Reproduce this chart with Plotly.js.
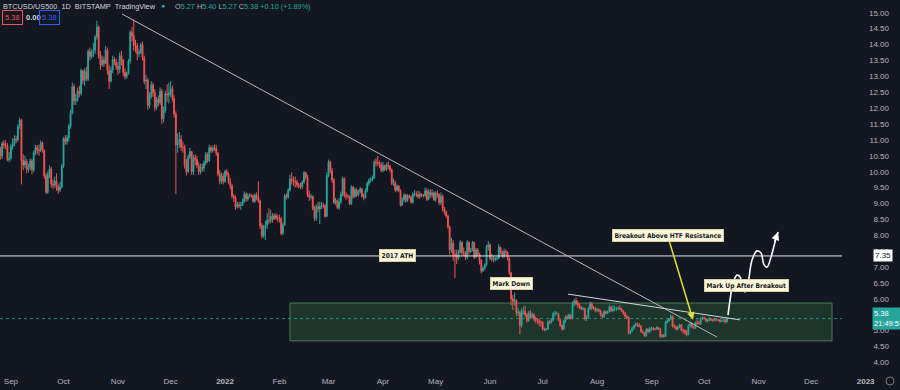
<!DOCTYPE html>
<html>
<head>
<meta charset="utf-8">
<script src="https://cdn.plot.ly/plotly-3.0.1.min.js"></script>
<style>
  html, body { margin: 0; padding: 0; background: #131722; }
  #chart { width: 900px; height: 390px; }
</style>
</head>
<body>
<div id="chart"></div>
<script>
// ---------------- DATA ----------------
// Daily candles of BTCUSD/US500 (ratio), one bar per calendar day, from 2021-08-26
const startDate = '2021-08-26';

const open = [
  // 2021-08 (26-31)
  10.70,10.49,10.89,10.84,10.82,10.38,
  // 2021-09
  10.43,10.79,10.87,11.03,11.00,11.42,11.62,10.35,10.21,10.33,10.07,10.14,10.34,10.05,10.60,10.76,10.68,10.67,10.90,10.67,9.87,9.35,9.92,10.09,9.61,9.58,9.70,9.50,9.42,9.52,
  // 2021-10
  10.17,11.04,10.95,11.06,11.44,11.85,12.67,12.23,12.28,12.53,12.46,13.18,12.87,13.15,12.91,13.78,13.62,13.76,13.82,14.23,14.55,13.67,13.36,13.51,13.40,13.82,13.18,12.85,13.19,13.53,13.44,
  // 2021-11
  13.31,13.22,13.65,13.50,13.12,12.99,13.09,13.48,14.38,14.28,13.97,13.96,13.71,13.75,13.99,13.58,12.85,12.88,12.09,12.37,12.73,12.49,12.02,12.28,12.17,12.53,11.66,11.93,12.45,12.41,
  // 2021-12
  12.48,12.61,12.30,11.81,10.84,10.89,11.02,10.78,10.76,10.20,10.00,10.48,10.63,10.00,10.44,10.38,10.20,10.00,10.13,10.11,10.27,10.54,10.35,10.75,10.66,10.75,10.73,10.58,9.92,9.70,9.86,
  // 2022-01
  9.69,10.01,9.92,9.67,9.55,9.23,9.18,8.89,8.96,8.94,8.95,9.06,9.29,9.14,9.24,9.26,9.24,9.07,9.26,9.20,9.08,8.30,7.98,8.25,8.32,8.47,8.46,8.60,8.51,8.62,8.55,
  // 2022-02
  8.53,8.51,8.06,8.33,9.24,9.20,9.42,9.77,9.75,9.68,9.68,9.59,9.55,9.53,9.68,9.97,9.83,9.27,9.20,9.22,8.83,8.53,8.90,8.83,8.93,8.94,8.92,8.60,
  // 2022-03
  9.88,10.31,10.03,9.74,9.03,9.10,8.87,9.05,9.28,9.79,9.25,9.23,9.23,8.99,9.51,9.22,9.43,9.27,9.37,9.46,9.23,9.19,9.40,9.63,9.73,9.75,9.80,10.30,10.29,10.25,10.23,
  // 2022-04
  10.04,10.19,10.07,10.21,10.17,10.06,9.64,9.65,9.42,9.54,9.40,8.95,9.12,9.26,9.09,9.24,9.20,9.04,9.29,9.30,9.28,9.22,9.29,9.25,9.25,9.40,9.13,9.37,9.26,9.34,
  // 2022-05
  9.12,9.32,9.27,9.03,9.23,8.83,8.73,8.61,8.27,7.54,7.75,7.40,7.38,7.28,7.48,7.78,7.46,7.44,7.31,7.77,7.49,7.54,7.77,7.32,7.54,7.41,7.20,6.88,6.97,7.07,7.62,
  // 2022-06
  7.70,7.27,7.28,7.23,7.28,7.28,7.62,7.47,7.34,7.49,7.46,7.28,6.82,6.00,5.92,5.96,5.56,5.58,5.17,5.61,5.61,5.50,5.32,5.56,5.42,5.50,5.37,5.31,5.31,5.26,
  // 2022-07
  5.26,5.05,5.02,5.05,5.28,5.27,5.33,5.53,5.54,5.54,5.33,5.16,5.05,5.31,5.43,5.38,5.49,5.38,5.85,5.94,5.86,5.80,5.73,5.68,5.70,5.37,5.41,5.69,5.85,5.71,5.71,
  // 2022-08
  5.64,5.66,5.62,5.49,5.44,5.60,5.55,5.60,5.75,5.63,5.68,5.68,5.70,5.70,5.68,5.61,5.55,5.45,5.42,4.92,4.99,5.09,5.17,5.21,5.17,5.14,4.98,4.93,4.83,5.04,4.97,
  // 2022-09
  5.06,5.07,5.05,5.05,5.10,5.05,4.81,4.85,4.82,5.26,5.31,5.36,5.45,5.14,5.12,5.05,5.11,5.19,5.01,5.00,4.93,4.88,5.16,5.23,5.12,5.09,5.25,5.24,5.22,5.38,
  // 2022-10 (1-14)
  5.41,5.38,5.30,5.33,5.36,5.34,5.33,5.36,5.33,5.33,5.29,5.31,5.35,5.27
];

const high = [
  10.78,10.95,10.99,10.98,10.90,10.62,
  10.88,11.05,11.15,11.12,11.50,11.70,11.66,10.55,10.50,10.40,10.25,10.42,10.40,10.66,10.85,10.84,10.85,10.98,10.95,10.70,9.95,10.02,10.20,10.15,9.75,9.85,9.95,9.60,9.68,10.25,
  11.10,11.15,11.15,11.50,11.95,12.80,12.75,12.45,12.65,12.70,13.25,13.20,13.25,13.30,13.85,13.90,13.85,14.05,14.30,14.75,14.60,13.80,13.65,13.62,13.95,13.90,13.35,13.30,13.65,13.60,13.55,
  13.45,13.75,13.80,13.55,13.25,13.15,13.55,14.45,14.55,14.80,14.15,14.05,13.85,14.05,14.10,13.65,13.05,12.95,12.50,12.85,12.80,12.60,12.35,12.40,12.65,12.60,12.05,12.55,12.75,12.80,
  12.85,12.70,12.40,11.90,11.20,11.25,11.15,10.95,10.85,10.40,10.55,10.75,10.65,10.52,10.55,10.50,10.30,10.25,10.25,10.35,10.62,10.60,10.85,10.82,10.82,10.85,10.85,10.62,10.05,9.98,9.95,
  10.05,10.08,9.98,9.80,9.62,9.30,9.25,9.05,9.05,9.05,9.15,9.38,9.35,9.32,9.32,9.30,9.28,9.32,9.35,9.70,9.12,8.38,8.32,8.45,8.70,8.85,8.80,8.70,8.68,8.70,8.65,
  8.65,8.58,8.40,9.30,9.32,9.48,9.90,9.98,9.85,9.85,9.75,9.65,9.65,9.72,10.02,10.00,9.90,9.40,9.30,9.25,8.92,8.98,9.05,9.05,9.05,9.02,8.98,9.98,
  10.38,10.35,10.12,9.80,9.18,9.12,9.18,9.38,9.85,9.82,9.35,9.30,9.25,9.58,9.55,9.50,9.48,9.42,9.52,9.48,9.30,9.48,9.70,9.80,9.82,9.88,10.38,10.42,10.50,10.35,10.30,
  10.30,10.22,10.28,10.32,10.22,10.10,9.78,9.72,9.60,9.58,9.45,9.20,9.32,9.30,9.30,9.28,9.25,9.35,9.42,9.38,9.40,9.38,9.32,9.30,9.50,9.48,9.45,9.45,9.45,9.38,
  9.38,9.42,9.32,9.35,9.28,8.90,8.78,8.65,8.30,7.92,7.85,7.55,7.55,7.55,7.85,7.82,7.62,7.50,7.85,7.82,7.60,7.82,7.80,7.60,7.60,7.45,7.25,7.02,7.12,7.70,7.82,
  7.75,7.42,7.35,7.32,7.35,7.72,7.65,7.52,7.58,7.55,7.50,7.30,6.85,6.12,6.20,5.98,5.70,5.62,5.70,5.75,5.78,5.55,5.62,5.65,5.58,5.55,5.45,5.40,5.38,5.32,
  5.30,5.10,5.08,5.32,5.35,5.40,5.58,5.62,5.60,5.56,5.36,5.20,5.35,5.48,5.50,5.55,5.52,5.92,6.00,6.05,5.95,5.85,5.78,5.75,5.72,5.48,5.75,5.92,5.90,5.78,5.75,
  5.72,5.70,5.66,5.55,5.65,5.62,5.64,5.82,5.76,5.80,5.78,5.75,5.76,5.80,5.72,5.64,5.58,5.50,5.44,5.02,5.12,5.20,5.26,5.26,5.24,5.18,5.02,4.95,5.08,5.08,5.12,
  5.12,5.12,5.08,5.14,5.12,5.08,4.90,4.90,5.30,5.36,5.40,5.52,5.48,5.20,5.16,5.15,5.22,5.20,5.06,5.05,5.02,5.20,5.28,5.25,5.15,5.28,5.35,5.30,5.42,5.46,
  5.44,5.40,5.38,5.42,5.40,5.38,5.40,5.37,5.36,5.36,5.34,5.38,5.38,5.40
];

const low = [
  10.38,10.40,10.72,10.70,10.33,10.30,
  10.35,10.70,10.80,10.90,10.95,11.35,9.60,10.05,10.12,9.95,9.98,10.05,9.92,9.98,10.52,10.55,10.50,10.62,10.60,9.78,9.30,9.30,9.80,9.50,9.45,9.50,9.40,9.30,9.36,9.48,
  10.12,10.85,10.85,10.95,11.35,11.80,12.10,12.10,12.20,12.35,12.40,12.75,12.70,12.85,12.85,13.50,13.55,13.60,13.70,14.15,13.55,13.20,13.30,13.30,13.38,13.05,12.60,12.80,13.10,13.35,13.20,
  13.05,13.10,13.35,13.00,12.90,12.92,13.05,13.40,14.10,13.80,13.75,13.50,13.60,13.70,13.50,12.75,12.60,11.95,12.00,12.30,12.35,11.90,11.95,12.05,12.10,11.50,11.55,11.85,12.20,12.15,
  12.35,12.20,11.70,9.30,10.60,10.75,10.65,10.60,10.10,9.88,9.95,10.40,9.90,9.90,10.20,10.12,9.90,9.92,10.00,10.00,10.20,10.28,10.30,10.58,10.60,10.65,10.50,9.85,9.60,9.62,9.60,
  9.65,9.85,9.62,9.45,9.15,9.05,8.80,8.85,8.85,8.80,8.92,9.02,9.05,9.08,9.18,9.18,9.02,9.02,9.10,9.02,8.20,7.90,7.92,7.85,8.20,8.35,8.38,8.40,8.48,8.48,8.42,
  8.40,8.00,8.00,8.30,9.12,9.15,9.38,9.60,9.55,9.50,9.50,9.48,9.45,9.45,9.62,9.75,9.20,9.08,9.12,8.78,8.45,8.45,8.72,8.35,8.82,8.85,8.55,8.58,
  9.82,9.95,9.65,8.98,8.95,8.82,8.80,8.98,9.22,9.18,9.12,9.15,8.95,8.95,9.15,9.18,9.20,9.22,9.32,9.18,9.10,9.15,9.35,9.55,9.66,9.70,9.78,10.15,10.18,10.12,9.98,
  9.98,10.02,10.02,10.08,9.98,9.58,9.55,9.35,9.38,9.35,8.90,8.92,9.05,9.02,9.05,9.15,9.00,9.00,9.22,9.20,9.15,9.15,9.20,9.18,9.20,9.08,9.10,9.18,9.18,9.08,
  9.05,9.18,8.95,8.95,8.75,8.65,8.55,8.20,7.40,7.45,7.20,6.65,7.10,7.22,7.42,7.38,7.35,7.22,7.25,7.40,7.45,7.50,7.25,7.28,7.35,7.08,6.80,6.85,6.90,7.02,7.52,
  7.22,7.18,7.15,7.18,7.20,7.25,7.40,7.28,7.28,7.38,7.20,6.75,5.80,5.65,5.80,5.45,5.45,4.88,5.10,5.50,5.42,5.25,5.28,5.38,5.38,5.30,5.24,5.20,5.15,5.12,
  5.00,4.98,5.00,5.03,5.20,5.22,5.30,5.45,5.50,5.30,5.12,5.00,5.02,5.25,5.35,5.36,5.35,5.36,5.78,5.80,5.72,5.68,5.64,5.64,5.32,5.30,5.38,5.65,5.65,5.66,5.58,
  5.58,5.58,5.45,5.40,5.40,5.52,5.52,5.58,5.58,5.58,5.62,5.62,5.66,5.64,5.58,5.50,5.40,5.38,4.88,4.88,4.96,5.02,5.12,5.12,5.10,4.94,4.90,4.80,4.82,4.92,4.94,
  5.00,5.00,5.02,5.02,5.02,4.78,4.78,4.78,4.80,5.22,5.28,5.34,5.10,5.06,5.00,5.02,5.08,4.98,4.90,4.88,4.82,4.85,5.10,5.08,5.05,5.05,5.18,5.18,5.18,5.34,
  5.35,5.28,5.26,5.30,5.30,5.28,5.30,5.30,5.30,5.26,5.26,5.28,5.22,5.27
];

const close = [
  10.49,10.89,10.84,10.82,10.38,10.43,
  10.79,10.87,11.03,11.00,11.42,11.62,10.35,10.21,10.33,10.07,10.14,10.34,10.05,10.60,10.76,10.68,10.67,10.90,10.67,9.87,9.35,9.92,10.09,9.61,9.58,9.70,9.50,9.42,9.52,10.17,
  11.04,10.95,11.06,11.44,11.85,12.67,12.23,12.28,12.53,12.46,13.18,12.87,13.15,12.91,13.78,13.62,13.76,13.82,14.23,14.55,13.67,13.36,13.51,13.40,13.82,13.18,12.85,13.19,13.53,13.44,13.31,
  13.22,13.65,13.50,13.12,12.99,13.09,13.48,14.38,14.28,13.97,13.96,13.71,13.75,13.99,13.58,12.85,12.88,12.09,12.37,12.73,12.49,12.02,12.28,12.17,12.53,11.66,11.93,12.45,12.41,12.48,
  12.61,12.30,11.81,10.84,10.89,11.02,10.78,10.76,10.20,10.00,10.48,10.63,10.00,10.44,10.38,10.20,10.00,10.13,10.11,10.27,10.54,10.35,10.75,10.66,10.75,10.73,10.58,9.92,9.70,9.86,9.69,
  10.01,9.92,9.67,9.55,9.23,9.18,8.89,8.96,8.94,8.95,9.06,9.29,9.14,9.24,9.26,9.24,9.07,9.26,9.20,9.08,8.30,7.98,8.25,8.32,8.47,8.46,8.60,8.51,8.62,8.55,8.53,
  8.51,8.06,8.33,9.24,9.20,9.42,9.77,9.75,9.68,9.68,9.59,9.55,9.53,9.68,9.97,9.83,9.27,9.20,9.22,8.83,8.53,8.90,8.83,8.93,8.94,8.92,8.60,9.88,
  10.31,10.03,9.74,9.03,9.10,8.87,9.05,9.28,9.79,9.25,9.23,9.23,8.99,9.51,9.22,9.43,9.27,9.37,9.46,9.23,9.19,9.40,9.63,9.73,9.75,9.80,10.30,10.29,10.25,10.23,10.04,
  10.19,10.07,10.21,10.17,10.06,9.64,9.65,9.42,9.54,9.40,8.95,9.12,9.26,9.09,9.24,9.20,9.04,9.29,9.30,9.28,9.22,9.29,9.25,9.25,9.40,9.13,9.37,9.26,9.34,9.12,
  9.32,9.27,9.03,9.23,8.83,8.73,8.61,8.27,7.54,7.75,7.40,7.38,7.28,7.48,7.78,7.46,7.44,7.31,7.77,7.49,7.54,7.77,7.32,7.54,7.41,7.20,6.88,6.97,7.07,7.62,7.70,
  7.27,7.28,7.23,7.28,7.28,7.62,7.47,7.34,7.49,7.46,7.28,6.82,6.00,5.92,5.96,5.56,5.58,5.17,5.61,5.61,5.50,5.32,5.56,5.42,5.50,5.37,5.31,5.31,5.26,5.26,
  5.05,5.02,5.05,5.28,5.27,5.33,5.53,5.54,5.54,5.33,5.16,5.05,5.31,5.43,5.38,5.49,5.38,5.85,5.94,5.86,5.80,5.73,5.68,5.70,5.37,5.41,5.69,5.85,5.71,5.71,5.64,
  5.66,5.62,5.49,5.44,5.60,5.55,5.60,5.75,5.63,5.68,5.68,5.70,5.70,5.68,5.61,5.55,5.45,5.42,4.92,4.99,5.09,5.17,5.21,5.17,5.14,4.98,4.93,4.83,5.04,4.97,5.06,
  5.07,5.05,5.05,5.10,5.05,4.81,4.85,4.82,5.26,5.31,5.36,5.45,5.14,5.12,5.05,5.11,5.19,5.01,5.00,4.93,4.88,5.16,5.23,5.12,5.09,5.25,5.24,5.22,5.38,5.41,
  5.38,5.30,5.33,5.36,5.34,5.33,5.36,5.33,5.33,5.29,5.31,5.35,5.28,5.38
];

// Month tick labels (first day of each month)
const tickDates = ['2021-09-01','2021-10-01','2021-11-01','2021-12-01','2022-01-01','2022-02-01','2022-03-01','2022-04-01','2022-05-01','2022-06-01','2022-07-01','2022-08-01','2022-09-01','2022-10-01','2022-11-01','2022-12-01','2023-01-01'];
const tickLabels = ['Sep','Oct','Nov','Dec','<b>2022</b>','Feb','Mar','Apr','May','Jun','Jul','Aug','Sep','Oct','Nov','Dec','<b>2023</b>'];

// Drawn levels / trendlines
const athLevel = 7.35;          // 2017 ATH
const lastPrice = 5.38;
const rangeBox = {x0:'2022-02-07', x1:'2022-12-12 21:00', low:4.68, high:5.87};
const htfTrend = {x0:'2021-11-03 07:00', y0:14.96, x1:'2022-10-08 07:00', y1:4.80};
const resTrend = {x0:'2022-07-15 10:00', y0:6.15, x1:'2022-10-21 10:00', y1:5.34};

// Hand-drawn projection path (white arrow)
const projDates = ['2022-10-14 14:30','2022-10-15 18:00','2022-10-17 11:00','2022-10-19 17:45','2022-10-21 10:50','2022-10-23 04:00','2022-10-24 07:00','2022-10-26 00:15','2022-10-28 06:45','2022-10-31 03:00','2022-11-02 10:00','2022-11-04 03:00','2022-11-05 20:00','2022-11-08 02:40','2022-11-10 09:20','2022-11-12 02:30'];
const projPrices = [5.49,5.97,6.50,6.75,6.69,6.28,6.22,6.50,7.22,7.51,7.44,7.07,7.00,7.32,7.79,8.10];

// ---------------- BUILD ----------------
const dates = [];
{
  const t0 = Date.parse(startDate + 'T00:00:00Z');
  for (let i = 0; i < close.length; i++) {
    dates.push(new Date(t0 + i * 86400000).toISOString().slice(0, 10));
  }
}

const W = 900, PLOT_H = 372;
const px = v => v / W;                 // paper x from pixel
const py = v => (PLOT_H - v) / PLOT_H; // paper y from pixel

const UP = '#26a69a', DOWN = '#ef5350';
const AXIS_TXT = '#b2b5be';
const NARROW = "'Liberation Sans Narrow', 'DejaVu Sans Condensed', 'Liberation Sans', sans-serif";
const SANS = "'Liberation Sans', 'DejaVu Sans', sans-serif";

const traces = [
  {
    type: 'candlestick',
    x: dates, open: open, high: high, low: low, close: close,
    increasing: {line: {color: UP, width: 1}, fillcolor: UP},
    decreasing: {line: {color: DOWN, width: 1}, fillcolor: DOWN},
    whiskerwidth: 0,
    hoverinfo: 'skip'
  },
  {
    type: 'scatter', mode: 'lines',
    x: projDates, y: projPrices,
    line: {color: '#ffffff', width: 1.6, shape: 'spline', smoothing: 1},
    hoverinfo: 'skip'
  }
];

const labelStyle = {
  font: {family: NARROW, size: 6.6, color: '#131722', weight: 700},
  bgcolor: '#fff8dc', bordercolor: '#d8cfa0', borderwidth: 1, borderpad: 1.5
};

const layout = {
  width: 900, height: 390,
  margin: {l: 0, r: 0, t: 0, b: 18},
  paper_bgcolor: '#131722', plot_bgcolor: '#131722',
  showlegend: false, hovermode: false,
  font: {family: SANS, color: AXIS_TXT},
  xaxis: {
    type: 'date',
    range: ['2021-08-25 19:00', '2023-01-20 14:00'],
    rangeslider: {visible: false},
    tickvals: tickDates, ticktext: tickLabels,
    showgrid: false, zeroline: false, showline: false, ticks: '',
    ticklabelstandoff: 3,
    tickfont: {size: 8, color: AXIS_TXT, family: SANS},
    fixedrange: true
  },
  yaxis: {
    side: 'right',
    range: [3.70, 15.40],
    tick0: 4, dtick: 0.5, tickformat: '.2f',
    ticklabelposition: 'inside',
    ticklabelstandoff: 8,
    showgrid: false, zeroline: false, showline: false, ticks: '',
    tickfont: {size: 8, color: AXIS_TXT, family: SANS},
    fixedrange: true
  },
  shapes: [
    // accumulation range box
    {type: 'rect', xref: 'x', yref: 'y', x0: rangeBox.x0, x1: rangeBox.x1, y0: rangeBox.low, y1: rangeBox.high,
     fillcolor: 'rgba(76,175,80,0.20)', line: {color: 'rgba(120,190,120,0.55)', width: 1}, layer: 'below'},
    // last price dotted line
    {type: 'line', xref: 'paper', yref: 'y', x0: 0, x1: px(842), y0: lastPrice, y1: lastPrice,
     line: {color: 'rgba(38,166,154,0.75)', width: 1, dash: 'dot'}, layer: 'below'},
    // 2017 ATH level
    {type: 'line', xref: 'paper', yref: 'y', x0: 0, x1: px(842), y0: athLevel, y1: athLevel,
     line: {color: '#e6e6e6', width: 1}},
    // HTF descending trendline
    {type: 'line', xref: 'x', yref: 'y', x0: htfTrend.x0, y0: htfTrend.y0, x1: htfTrend.x1, y1: htfTrend.y1,
     line: {color: '#b8bac0', width: 1}},
    // local resistance trendline
    {type: 'line', xref: 'x', yref: 'y', x0: resTrend.x0, y0: resTrend.y0, x1: resTrend.x1, y1: resTrend.y1,
     line: {color: '#d1d4dc', width: 1}},
    // settings icon
    {type: 'circle', xref: 'paper', yref: 'paper', x0: px(886), x1: px(894), y0: py(385), y1: py(377),
     line: {color: '#787b86', width: 1}}
  ],
  annotations: [
    // header
    {xref: 'paper', yref: 'paper', x: px(1), y: 1, xanchor: 'left', yanchor: 'top', yshift: 0, showarrow: false,
     text: 'BTCUSD/US500&nbsp;&nbsp;1D&nbsp;&nbsp;BITSTAMP&nbsp;&nbsp;TradingView',
     font: {family: SANS, size: 7.3, color: '#d1d4dc'}},
    {xref: 'paper', yref: 'paper', x: px(163), y: 1, xanchor: 'center', yanchor: 'top', yshift: 0, showarrow: false,
     text: '●', font: {size: 7, color: UP}},
    {xref: 'paper', yref: 'paper', x: px(173), y: 1, xanchor: 'left', yanchor: 'top', yshift: 0, showarrow: false,
     text: '<span style="color:#b2b5be">O</span>5.27&nbsp;<span style="color:#b2b5be">H</span>5.40&nbsp;<span style="color:#b2b5be">L</span>5.27&nbsp;<span style="color:#b2b5be">C</span>5.38&nbsp;+0.10&nbsp;(+1.89%)',
     font: {family: SANS, size: 7.3, color: UP}},
    // second header row boxes
    {xref: 'paper', yref: 'paper', x: px(2), y: py(18), xanchor: 'left', yanchor: 'middle', showarrow: false,
     text: '5.38', font: {size: 7.5, color: DOWN}, bordercolor: DOWN, borderwidth: 1, borderpad: 2},
    {xref: 'paper', yref: 'paper', x: px(24), y: py(18), xanchor: 'left', yanchor: 'middle', showarrow: false,
     text: '<b>0.00</b>', font: {size: 7.5, color: '#d1d4dc'}},
    {xref: 'paper', yref: 'paper', x: px(39), y: py(18), xanchor: 'left', yanchor: 'middle', showarrow: false,
     text: '5.38', font: {size: 7.5, color: '#2962ff'}, bordercolor: '#2962ff', borderwidth: 1, borderpad: 2},
    // price scale labels
    {xref: 'paper', yref: 'y', x: px(873), y: athLevel, xanchor: 'left', yanchor: 'middle', showarrow: false,
     text: '7.35', font: {size: 8, color: '#131722'}, bgcolor: '#ffffff', borderpad: 1},
    {xref: 'paper', yref: 'y', x: px(872), y: lastPrice, xanchor: 'left', yanchor: 'middle', showarrow: false, align: 'left',
     text: '5.38<br>21:49:57', font: {size: 7.5, color: '#ffffff'}, bgcolor: UP, borderpad: 1},
    // text labels
    Object.assign({xref: 'x', yref: 'y', x: '2022-04-09', y: athLevel, showarrow: false, text: '2017 ATH'}, labelStyle),
    Object.assign({xref: 'x', yref: 'y', x: '2022-06-13', y: 6.48, showarrow: false, text: 'Mark Down'}, labelStyle),
    Object.assign({xref: 'x', yref: 'y', x: '2022-10-24 21:00', y: 6.42, showarrow: false, text: 'Mark Up After Breakout'}, labelStyle),
    Object.assign({xref: 'x', yref: 'y', x: '2022-09-24 16:00', y: 5.34, showarrow: true,
      ax: -25.5, ay: -84.5, arrowcolor: '#e3df3a', arrowwidth: 1.5, arrowhead: 2, arrowsize: 1, standoff: 0,
      text: 'Breakout Above HTF Resistance'}, labelStyle),
    // white arrow head
    {xref: 'x', yref: 'y', x: projDates[projDates.length - 1], y: projPrices[projPrices.length - 1],
     ax: -4, ay: 11, showarrow: true, text: '', arrowcolor: '#ffffff', arrowwidth: 1.6, arrowhead: 2, arrowsize: 1}
  ]
};

Plotly.newPlot('chart', traces, layout, {staticPlot: true, displayModeBar: false});
</script>
</body>
</html>
